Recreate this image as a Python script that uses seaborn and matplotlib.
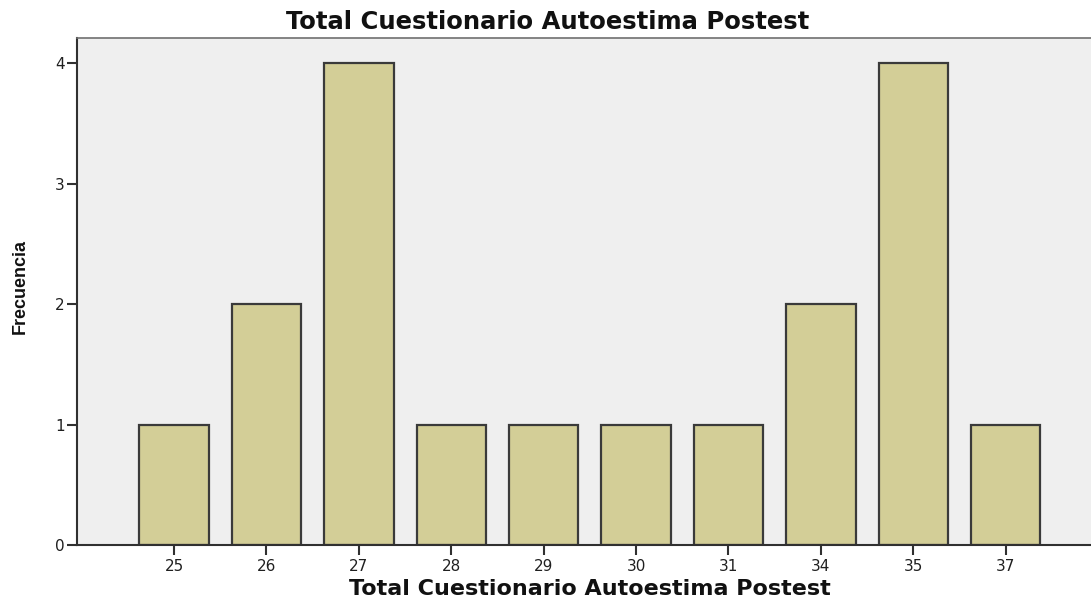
import seaborn as sns
import matplotlib.pyplot as plt
import pandas as pd

puntajes = ['25', '26', '27', '28', '29', '30', '31', '34', '35', '37']
frecuencia = [1, 2, 4, 1, 1, 1, 1, 2, 4, 1]
yticks = [0, 1, 2, 3, 4]

df = pd.DataFrame({'puntaje': puntajes, 'frecuencia': frecuencia})

sns.set_style("white")
plt.rcParams['font.family'] = ['DejaVu Sans']

fig = plt.figure(figsize=(10.91, 5.98), dpi=100)
ax = fig.add_axes([0.0706, 0.0886, 0.93, 0.848])
ax.set_facecolor('#efefef')

sns.barplot(data=df, x='puntaje', y='frecuencia', ax=ax, color='#d3ce97',
            saturation=1, width=0.75, edgecolor='#3a3a3a', linewidth=1.6)

ax.set_xlim(-1.05, 9.93)
ax.set_ylim(0, 4.21)
ax.set_yticks(yticks)
ax.set_yticklabels([str(t) for t in yticks])

for side in ['left', 'bottom']:
    ax.spines[side].set_color('#303030')
    ax.spines[side].set_linewidth(1.5)
ax.spines['top'].set_color('#707070')
ax.spines['top'].set_linewidth(1.2)
ax.spines['right'].set_visible(False)

ax.tick_params(axis='both', direction='out', length=7, width=1.5, color='#303030',
               labelsize=11, labelcolor='#202020', left=True, bottom=True)
ax.tick_params(axis='y', pad=2)
ax.tick_params(axis='x', pad=3)

# title is centred on the whole image in the original
fig.text(0.5023, 0.952, 'Total Cuestionario Autoestima Postest', fontsize=17.5, fontweight='bold',
         ha='center', va='baseline', color='#111111')
ax.set_xlabel('Total Cuestionario Autoestima Postest', fontsize=16, fontweight='bold',
              color='#111111')
ax.xaxis.set_label_coords(0.5056, -0.067)
ax.set_ylabel('Frecuencia', fontsize=13, fontweight='bold', color='#111111',
              family=['Liberation Sans Narrow', 'Liberation Sans', 'DejaVu Sans'])
ax.yaxis.set_label_coords(-0.048, 0.51)

plt.savefig('out.png', dpi=100)
